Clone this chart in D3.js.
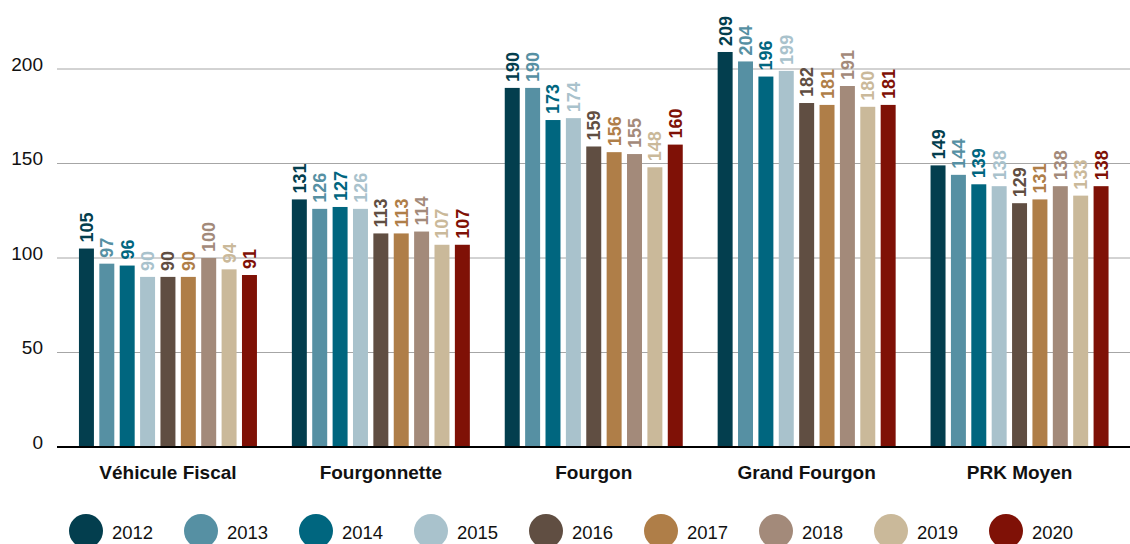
<!DOCTYPE html>
<html>
<head>
<meta charset="utf-8">
<script src="https://cdn.jsdelivr.net/npm/d3@7"></script>
<style>
  body { margin: 0; background: #fff; }
  svg { font-family: "Liberation Sans", Arial, Helvetica, sans-serif; }
</style>
</head>
<body>
<svg id="chart"></svg>
<script>
// data
const categories = ["Véhicule Fiscal", "Fourgonnette", "Fourgon", "Grand Fourgon", "PRK Moyen"];
const years = ["2012", "2013", "2014", "2015", "2016", "2017", "2018", "2019", "2020"];
const values2012 = [105, 131, 190, 209, 149];
const values2013 = [97, 126, 190, 204, 144];
const values2014 = [96, 127, 173, 196, 139];
const values2015 = [90, 126, 174, 199, 138];
const values2016 = [90, 113, 159, 182, 129];
const values2017 = [90, 113, 156, 181, 131];
const values2018 = [100, 114, 155, 191, 138];
const values2019 = [94, 107, 148, 180, 133];
const values2020 = [91, 107, 160, 181, 138];
const yTicks = [0, 50, 100, 150, 200];
const colors = ["#033e4e", "#5690a3", "#00667f", "#a9c2cc", "#604e42", "#af7e48", "#a38a7a", "#cab99a", "#7f1106"];

const seriesValues = [values2012, values2013, values2014, values2015, values2016,
                      values2017, values2018, values2019, values2020];

const W = 1130, H = 544;
const svg = d3.select("#chart").attr("width", W).attr("height", H);

// scales
const y = d3.scaleLinear().domain([0, 200]).range([447, 69]);
const x0 = d3.scaleBand().domain(categories).range([61.5, 1126]);
const groupW = 178;
const x1 = d3.scaleBand().domain(years).range([0, groupW]).paddingInner(0.265);
const color = d3.scaleOrdinal().domain(years).range(colors);

// gridlines
svg.append("g").selectAll("line")
  .data(yTicks.filter(t => t > 0))
  .join("line")
    .attr("x1", 57).attr("x2", W)
    .attr("y1", d => y(d)).attr("y2", d => y(d))
    .attr("stroke", "#a6a6a6").attr("stroke-width", 1);

// y tick labels
svg.append("g").selectAll("text")
  .data(yTicks)
  .join("text")
    .attr("x", 43)
    .attr("y", d => y(d) + 1.5)
    .attr("text-anchor", "end")
    .attr("font-size", "19px")
    .attr("fill", "#111")
    .text(d => d);

// bars
const rows = [];
categories.forEach((c, i) => {
  years.forEach((yr, j) => rows.push({cat: c, year: yr, value: seriesValues[j][i]}));
});
const groupX = c => x0(c) + (x0.bandwidth() - groupW) / 2;

svg.append("g").selectAll("rect")
  .data(rows)
  .join("rect")
    .attr("x", d => groupX(d.cat) + x1(d.year))
    .attr("y", d => y(d.value))
    .attr("width", x1.bandwidth())
    .attr("height", d => y(0) - y(d.value))
    .attr("fill", d => color(d.year));

// value labels
svg.append("g").selectAll("text")
  .data(rows)
  .join("text")
    .attr("transform", d => {
      const cx = groupX(d.cat) + x1(d.year) + x1.bandwidth() / 2;
      return `translate(${cx},${y(d.value) - 6}) rotate(-90)`;
    })
    .attr("dy", "0.36em")
    .attr("font-size", "18px")
    .attr("font-weight", "bold")
    .attr("fill", d => color(d.year))
    .text(d => d.value);

// axis line
svg.append("line")
  .attr("x1", 57).attr("x2", W)
  .attr("y1", y(0)).attr("y2", y(0))
  .attr("stroke", "#000").attr("stroke-width", 2);

// category labels
svg.append("g").selectAll("text")
  .data(categories)
  .join("text")
    .attr("x", d => x0(d) + x0.bandwidth() / 2)
    .attr("y", 479)
    .attr("text-anchor", "middle")
    .attr("font-size", "19px")
    .attr("font-weight", "bold")
    .attr("fill", "#111")
    .text(d => d);

// legend
const legend = svg.append("g").selectAll("g")
  .data(years)
  .join("g")
    .attr("transform", (d, i) => `translate(${86 + i * 115},531)`);
legend.append("circle")
  .attr("r", 17)
  .attr("fill", d => color(d));
legend.append("text")
  .attr("x", 26)
  .attr("y", 8)
  .attr("font-size", "18.5px")
  .attr("fill", "#111")
  .text(d => d);
</script>
</body>
</html>
